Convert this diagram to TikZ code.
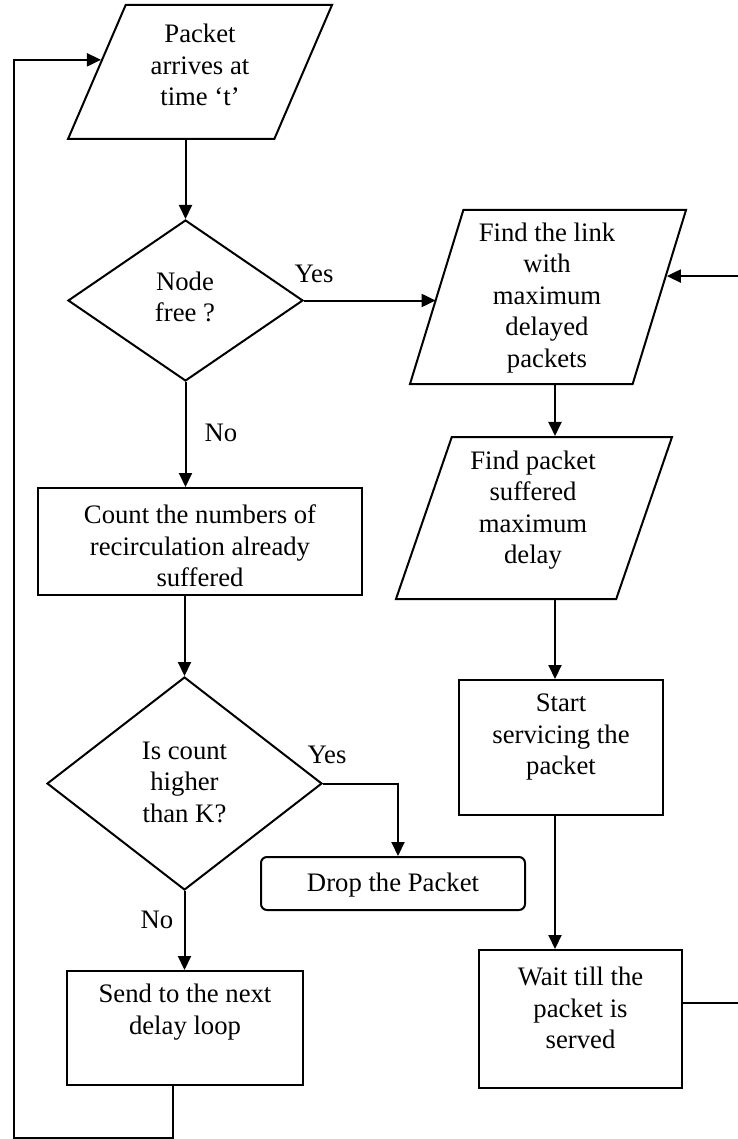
\documentclass[tikz,border=0pt]{standalone}
\usepackage{fontspec}
\setmainfont{Liberation Serif}
\usetikzlibrary{shapes.geometric,arrows.meta,calc}
\begin{document}
\begin{tikzpicture}[x=1pt,y=-1pt,
  line width=2pt,
  every node/.style={font=\fontsize{26.7}{31.5}\selectfont},
  box/.style={draw,rectangle,inner sep=0pt},
  decision/.style={draw,diamond,inner sep=0pt},
  io/.style={draw,trapezium,trapezium stretches=true,inner sep=1pt},
  txt/.style={align=center,inner sep=0pt},
  lbl/.style={inner sep=0pt},
  arr/.style={-{Triangle[length=14pt,width=13pt]}}]

\useasboundingbox (0,0) rectangle (737,1139);

% helper coordinates for the routed connectors
\coordinate (rcol) at (555,0);
\coordinate (lx) at (14,1138);
\coordinate (rx) at (745,0);

% left column
\node[io, trapezium left angle=68.8, trapezium right angle=111.2,
      minimum width=264pt, minimum height=134pt] (arrive) at (200,72) {};
\node[txt] (arrivetxt) at (200,65) {Packet\\arrives at\\time ‘t’};

\node[decision, minimum width=235pt, minimum height=161pt] (free) at (185.5,300.5) {};
\node[txt] (freetxt) at (185,297) {Node\\free ?};

\node[box, minimum width=324pt, minimum height=107pt] (count) at (200,541.5) {};
\node[txt] (counttxt) at (200,546) {Count the numbers of\\recirculation already\\suffered};

\node[decision, minimum width=275pt, minimum height=213pt] (limit) at (184.5,783.5) {};
\node[txt] (limittxt) at (184.5,782) {Is count\\higher\\than K?};

\node[box, rounded corners=6pt, minimum width=264pt, minimum height=53pt] (drop) at (393,883.5) {};
\node[txt] (droptxt) at (393,885) {Drop the Packet};

\node[box, minimum width=236pt, minimum height=114pt] (send) at (185,1028) {};
\node[txt] (sendtxt) at (185,1012) {Send to the next\\delay loop};

% right column
\node[io, trapezium left angle=72.5, trapezium right angle=107.5,
      minimum width=276pt, minimum height=174pt] (link) at (548,297) {};
\node[txt] (linktxt) at (547,298) {Find the link\\with\\maximum\\delayed\\packets};

\node[io, trapezium left angle=71.25, trapezium right angle=108.75,
      minimum width=276pt, minimum height=162pt] (packet) at (534,518) {};
\node[txt] (packettxt) at (533,510) {Find packet\\suffered\\maximum\\delay};

\node[box, minimum width=204pt, minimum height=135pt] (start) at (561,747.5) {};
\node[txt] (starttxt) at (561,737) {Start\\servicing the\\packet};

\node[box, minimum width=203pt, minimum height=138pt] (wait) at (580.5,1019) {};
\node[txt] (waittxt) at (580.5,1008) {Wait till the\\packet is\\served};

% branch labels
\node[lbl] (yes1) at (314,274) {Yes};
\node[lbl] (no1) at (221,433) {No};
\node[lbl] (yes2) at (327,755) {Yes};
\node[lbl] (no2) at (157,920) {No};

% connectors
\draw[arr] (free.north |- arrive.south) -- (free.north);
\draw[arr] (free.south) -- (count.north -| free.south);
\draw[arr] (limit.north |- count.south) -- (limit.north);
\draw[arr] (limit.south) -- (send.north -| limit.south);
\draw[arr] (limit.east) -| ([xshift=5pt]drop.north);
\draw[arr] (free.east) -- (free.east -| link.west);
\draw[arr] (rcol |- link.south) -- (rcol |- packet.north);
\draw[arr] (rcol |- packet.south) -- (rcol |- start.north);
\draw[arr] (rcol |- start.south) -- (rcol |- wait.north);
\draw[arr] ([yshift=16pt]wait.east) -- ([yshift=16pt]wait.east -| rx) |- (link.10);
\draw[arr] ([xshift=-12pt]send.south) |- (lx) |- (arrive.173);
\end{tikzpicture}
\end{document}
